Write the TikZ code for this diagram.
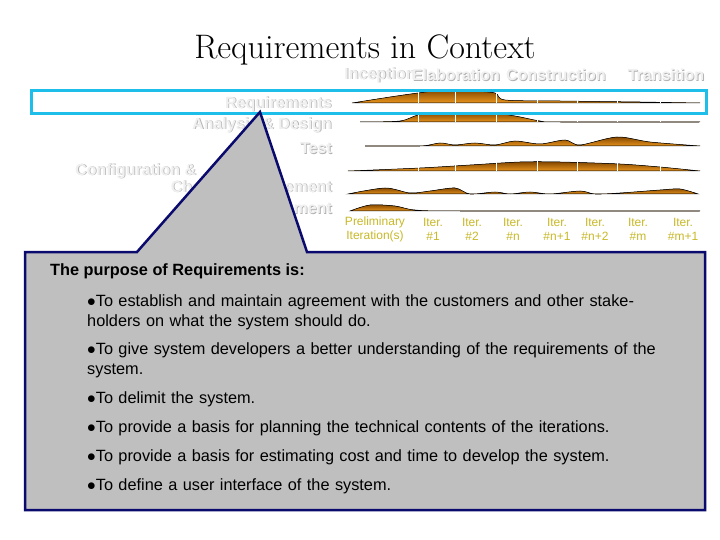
\documentclass[tikz,border=0pt]{standalone}
\usepackage{fontspec}
\setsansfont{Liberation Sans}
\begin{document}
\begin{tikzpicture}[x=1pt,y=-1pt,
  ghost/.style={font=\sffamily\bfseries\fontsize{16}{16}\selectfont, text=gray!12, inner sep=0},
  shadow/.style={font=\sffamily\bfseries\fontsize{16}{16}\selectfont, text=gray!60, inner sep=0},
  iter/.style={font=\sffamily\fontsize{12}{14}\selectfont, text={rgb,255:red,200;green,185;blue,40}, align=center, inner sep=0},
  hump/.style={top color={rgb,255:red,130;green,70;blue,0}, bottom color={rgb,255:red,235;green,150;blue,30}, draw=black, line width=0.5pt},
  body/.style={font=\sffamily\fontsize{16.3}{20}\selectfont, anchor=north west, align=left, inner sep=0, text width=575}]
\useasboundingbox (0,0) rectangle (720,540);
\fill[white] (0,0) rectangle (720,540);
\node[font=\rmfamily\fontsize{34}{34}\selectfont] (title) at (365,50) {Requirements in Context};
% phase labels
\foreach \x/\t [count=\i] in {380/Inception,456/Elaboration,556/Construction,666/Transition}{
  \node[shadow] (ps\i) at (\x+0.8,75.8) {\t};
  \node[ghost] (ph\i) at (\x,75) {\t};}
% row labels
\foreach \y/\t [count=\i] in {104/Requirements,125/Analysis \& Design,148/Test,188/Change Management,208/Environment}{
  \node[shadow,anchor=east] (rs\i) at (332.8,\y+0.8) {\t};
  \node[ghost,anchor=east] (rl\i) at (332,\y) {\t};}
\node[shadow,anchor=west] (cs) at (75.8,171.8) {Configuration \&};
\node[ghost,anchor=west] (cl) at (75,171) {Configuration \&};
% humps
\fill[hump] plot[smooth] coordinates {(352,103)(390,97)(418,93)(445,90)(470,91)(495,93)(505,100)(560,101)(640,102)(700,103)} -- cycle;
\fill[hump] plot[smooth] coordinates {(360,122)(400,121)(418,115)(440,113)(490,113)(515,116)(540,121)(560,122)(700,122)} -- cycle;
\fill[hump] plot[smooth] coordinates {(365,146)(420,146)(440,143)(455,145)(475,143)(495,145)(515,141)(540,144)(565,140)(580,145)(617,137)(650,142)(700,146)} -- cycle;
\fill[hump] plot[smooth] coordinates {(348,171)(420,168)(470,165)(520,162)(560,162)(620,164)(660,167)(700,171)} -- cycle;
\fill[hump] plot[smooth] coordinates {(348,194)(385,188)(410,193)(430,191)(455,188)(470,194)(495,192)(510,194)(530,192)(550,194)(580,191)(595,194)(620,193)(660,190)(680,189)(698,194)} -- cycle;
\fill[hump] plot[smooth] coordinates {(350,211)(370,205)(395,206)(415,210)(460,211)(700,211)} -- cycle;
\foreach \x in {418,455,496,537,577,617,660}{\draw[white,line width=0.8pt] (\x,88) -- (\x,103) (\x,112) -- (\x,122) (\x,160) -- (\x,171);}
% iteration labels
\foreach \x/\t [count=\i] in {375/Preliminary\\Iteration(s),433/Iter.\\\#1,472/Iter.\\\#2,513/Iter.\\\#n,557/Iter.\\\#n+1,595/Iter.\\\#n+2,638/Iter.\\\#m,683/Iter.\\\#m+1}
  \node[iter] (it\i) at (\x,229) {\t};
% highlight
\draw[draw={rgb,255:red,30;green,190;blue,235}, line width=3pt] (31,91) rectangle (706,114);
% callout
\fill[gray!50] (25,252) -- (137,252) -- (260,112) -- (307,252) -- (705,252) -- (705,510) -- (25,510) -- cycle;
\draw[draw={rgb,255:red,10;green,10;blue,110}, line width=2.5pt] (25,252) -- (137,252) -- (260,112) -- (307,252) -- (705,252) -- (705,510) -- (25,510) -- cycle;
\node[font=\sffamily\bfseries\fontsize{16.3}{18}\selectfont, anchor=west, inner sep=0] (head) at (50,271) {The purpose of Requirements is:};
\node[body] (b1) at (87,294) {$\bullet$To establish and maintain agreement with the customers and other stakeholders on what the system should do.};
\node[body] (b2) at (87,342) {$\bullet$To give system developers a better understanding of the requirements of the system.};
\node[body] (b3) at (87,391) {$\bullet$To delimit the system.};
\node[body] (b4) at (87,420) {$\bullet$To provide a basis for planning the technical contents of the iterations.};
\node[body] (b5) at (87,449) {$\bullet$To provide a basis for estimating cost and time to develop the system.};
\node[body] (b6) at (87,478) {$\bullet$To define a user interface of the system.};
\end{tikzpicture}
\end{document}
